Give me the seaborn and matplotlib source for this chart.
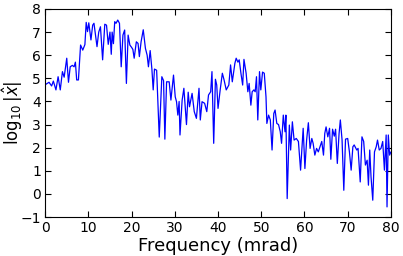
import pandas as pd
import matplotlib
matplotlib.use('Agg')
import matplotlib.pyplot as plt
import seaborn as sns

# values
freq = [0.0, 0.15, 0.9, 1.5, 1.9, 2.5, 3.0, 3.5, 4.0, 4.4, 5.0, 5.4, 5.8, 6.3, 6.7, 7.0, 7.3, 7.7,
        8.2, 8.7, 9.2, 9.5, 9.8, 10.1, 10.6, 11.0, 11.3, 12.0, 12.4, 12.8, 13.3, 13.8, 14.2, 14.6,
        15.0, 15.3, 15.5, 15.8, 16.1, 16.4, 16.8, 17.2, 17.6, 18.0, 18.4, 18.8, 19.2, 19.6, 20.0,
        20.3, 20.6, 21.1, 21.5, 21.8, 22.2, 22.7, 23.2, 23.6, 23.9, 24.3, 24.7, 25.0, 25.3, 25.8,
        26.4, 27.0, 27.4, 27.7, 28.1, 28.7, 29.1, 29.7, 30.1, 30.4, 30.7, 31.0, 31.2, 31.7, 32.1,
        32.7, 33.1, 33.4, 34.0, 34.5, 35.0, 35.6, 35.9, 36.3, 36.9, 37.4, 37.8, 38.3, 38.6, 39.0,
        39.4, 39.7, 40.0, 40.5, 41.0, 41.4, 41.9, 42.5, 42.9, 43.3, 43.9, 44.2, 44.6, 44.9, 45.3,
        45.7, 46.0, 46.5, 46.9, 47.2, 47.6, 47.9, 48.3, 48.6, 48.9, 49.2, 49.6, 49.9, 50.3, 50.7,
        51.1, 51.3, 51.7, 52.1, 52.5, 52.9, 53.2, 53.6, 54.0, 54.4, 54.7, 55.1, 55.5, 55.7, 56.0,
        56.5, 56.8, 57.2, 57.6, 58.1, 58.6, 59.1, 59.7, 60.1, 60.5, 60.9, 61.3, 61.7, 62.0, 62.4,
        62.8, 63.2, 63.6, 64.0, 64.4, 64.7, 65.0, 65.4, 65.8, 66.1, 66.5, 66.9, 67.2, 67.6, 68.0,
        68.3, 68.7, 69.1, 69.5, 70.0, 70.4, 70.8, 71.2, 71.5, 72.1, 72.4, 72.9, 73.3, 73.7, 74.1,
        74.5, 74.8, 75.1, 75.4, 75.8, 76.2, 76.6, 76.9, 77.3, 77.7, 78.1, 78.5, 78.9, 79.1, 79.4,
        79.7, 80.0]
log_amp = [4.8, 4.74, 4.83, 4.67, 4.88, 4.5, 5.07, 4.5, 5.29, 5.05, 5.87, 4.83, 5.5, 5.56, 5.5, 5.7, 4.93, 4.93,
           6.44, 6.22, 6.46, 7.42, 7.02, 7.4, 6.66, 7.3, 7.38, 6.37, 7.0, 7.23, 5.8, 7.34, 7.3, 6.47,
           7.0, 6.04, 7.0, 6.5, 7.45, 7.38, 7.52, 7.38, 5.5, 6.87, 7.09, 4.78, 6.87, 6.44, 6.34,
           6.25, 5.87, 6.58, 6.51, 5.94, 6.58, 7.1, 6.3, 6.0, 5.5, 6.2, 5.4, 4.5, 5.4, 5.35,
           2.46, 5.07, 4.9, 2.37, 4.85, 4.85, 4.06, 5.14, 4.2, 3.99, 3.41, 4.0, 2.55, 4.06, 4.57,
           3.0, 4.4, 3.77, 4.35, 3.56, 3.27, 4.57, 3.2, 3.99, 3.92, 3.56, 4.28, 4.42, 5.29, 2.19,
           4.96, 4.71, 3.7, 4.5, 5.22, 4.93, 4.5, 4.71, 5.58, 4.85, 5.65, 5.87, 5.7, 5.8, 5.22,
           4.71, 5.82, 5.22, 4.42, 4.78, 3.84, 4.42, 4.5, 4.42, 5.07, 3.2, 5.29, 4.5, 5.27, 5.22,
           4.2, 3.05, 3.41, 3.2, 1.9, 3.48, 3.63, 3.05, 3.0, 2.69, 2.19, 3.41, 2.69, 3.41, -0.2,
           2.98, 1.9, 3.12, 2.33, 2.4, 2.27, 1.03, 2.84, 1.1, 2.33, 3.08, 1.97, 2.4, 2.19, 1.68,
           1.97, 1.82, 2.04, 2.27, 1.68, 2.62, 2.9, 2.47, 2.84, 1.5, 2.8, 2.5, 2.8, 1.32, 2.6,
           3.2, 2.33, 0.16, 2.37, 2.4, 1.82, 1.03, 2.04, 2.12, 1.9, 1.97, 0.52, 2.47, 2.27, 1.25,
           1.46, 0.38, 1.9, 0.74, -0.27, 1.82, 2.04, 2.33, 1.9, 1.97, 2.27, 1.03, 2.55, -0.56, 2.55,
           1.68, 1.82]

df = pd.DataFrame({'freq': freq, 'log_amp': log_amp})

sns.set_style('white')
plt.rcParams['font.family'] = ['DejaVu Sans']
plt.rcParams['xtick.direction'] = 'in'
plt.rcParams['ytick.direction'] = 'in'
plt.rcParams['text.color'] = 'black'
plt.rcParams['axes.labelcolor'] = 'black'
plt.rcParams['xtick.color'] = 'black'
plt.rcParams['ytick.color'] = 'black'

fig = plt.figure(figsize=(4.03, 2.56), dpi=100)
ax = fig.add_axes([0.112, 0.152, 0.858, 0.813])
sns.lineplot(data=df, x='freq', y='log_amp', color='#0000ff', linewidth=0.9,
             estimator=None, sort=False, ax=ax)

ax.set_xlim(0, 80)
ax.set_ylim(-1, 8)
ax.set_xticks(range(0, 81, 10))
ax.set_yticks(range(-1, 9))
ax.tick_params(axis='both', which='major', labelsize=10, length=4, width=0.8,
               top=True, right=True, bottom=True, left=True, pad=3)
for s in ax.spines.values():
    s.set_color('black')
    s.set_linewidth(0.8)
ax.set_xlabel('Frequency (mrad)', fontsize=13, labelpad=1)
ax.set_ylabel(r'$\log_{10}|\hat{x}|$', fontsize=12, labelpad=0)
ax.yaxis.set_label_coords(-0.058, 0.5)

fig.savefig('out.png', dpi=100)
